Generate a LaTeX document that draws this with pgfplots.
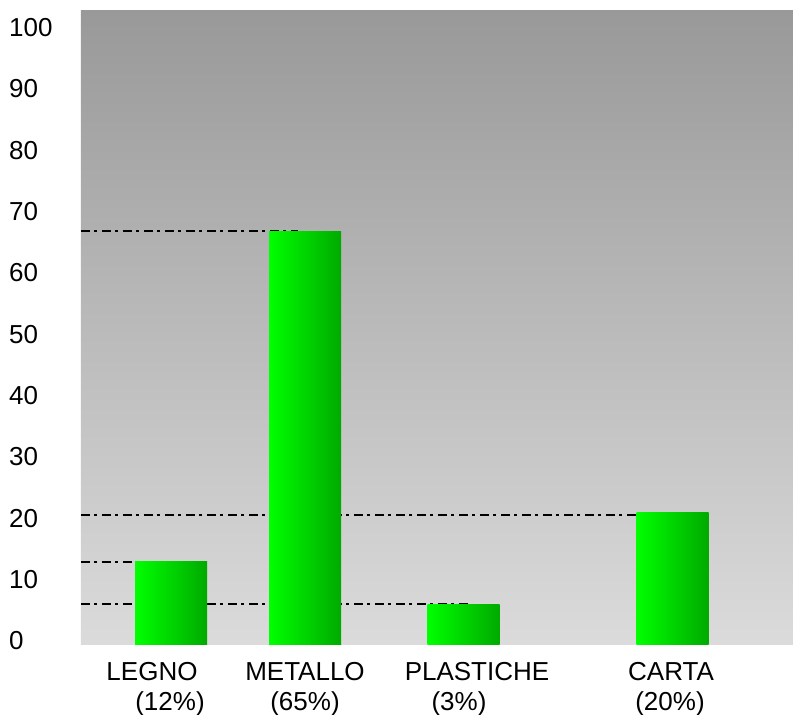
\documentclass[border=0pt]{standalone}
\usepackage{pgfplots}
\pgfplotsset{compat=1.18}
\usepackage{fontspec}
\setmainfont{Liberation Sans}
\definecolor{bgtop}{RGB}{153,153,153}
\definecolor{bgbot}{RGB}{219,219,219}
\definecolor{gl}{RGB}{0,255,0}
\definecolor{gr}{RGB}{0,170,0}
\begin{document}
\fontsize{26bp}{30bp}\selectfont
\begin{tikzpicture}
\useasboundingbox (-81bp,-71bp) rectangle (712bp,644bp);
\begin{axis}[
  at={(0,0)}, anchor=south west,
  scale only axis, width=712bp, height=633bp,
  xmin=81, xmax=793, ymin=0, ymax=103.2,
  axis line style={draw=none},
  major tick length=0pt,
  xtick=\empty,
  ytick={0,10,...,100},
  /pgf/number format/assume math mode=true,
  yticklabel style={anchor=west, xshift=-72bp, yshift=3bp, inner sep=0pt, font=\fontsize{26bp}{30bp}\selectfont},
  axis background/.style={shade, top color=bgtop, bottom color=bgbot},
  clip=false,
  dd/.style={black, line width=1.7bp, dash pattern=on 9bp off 4bp on 3bp off 5bp},
]
% dash-dot reference lines
\addplot[dd] coordinates {(81,13.4) (153,13.4)};
\addplot[dd] coordinates {(81,67.3) (298,67.3)};
\addplot[dd] coordinates {(81,6.5) (468,6.5)};
\addplot[dd] coordinates {(81,21.0) (672,21.0)};
% bars
\addplot[ybar, bar width=72bp, draw=none, left color=gl, right color=gr] coordinates {(171,13.4)};
\addplot[ybar, bar width=72bp, draw=none, left color=gl, right color=gr] coordinates {(305,67.3)};
\addplot[ybar, bar width=72bp, draw=none, left color=gl, right color=gr] coordinates {(463.5,6.5)};
\addplot[ybar, bar width=72bp, draw=none, left color=gl, right color=gr] coordinates {(672.5,21.5)};
% category labels
\node[anchor=base, inner sep=0pt, yshift=-36bp] at (axis cs:152,0) {LEGNO};
\node[anchor=base, inner sep=0pt, yshift=-66bp] at (axis cs:170,0) {(12\%)};
\node[anchor=base, inner sep=0pt, yshift=-36bp] at (axis cs:305,0) {METALLO};
\node[anchor=base, inner sep=0pt, yshift=-66bp] at (axis cs:305,0) {(65\%)};
\node[anchor=base, inner sep=0pt, yshift=-36bp] at (axis cs:477,0) {PLASTICHE};
\node[anchor=base, inner sep=0pt, yshift=-66bp] at (axis cs:459,0) {(3\%)};
\node[anchor=base, inner sep=0pt, yshift=-36bp] at (axis cs:671,0) {CARTA};
\node[anchor=base, inner sep=0pt, yshift=-66bp] at (axis cs:670,0) {(20\%)};
\end{axis}
\end{tikzpicture}
\end{document}
